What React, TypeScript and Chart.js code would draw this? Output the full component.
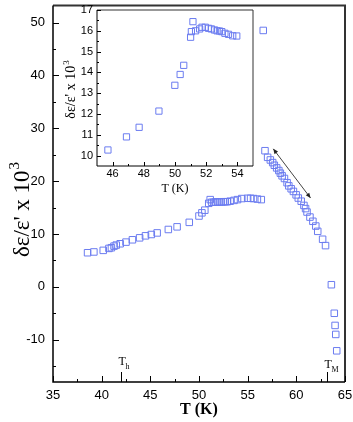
import { useEffect, useRef } from "react";
import { Chart, registerables } from "chart.js";
Chart.register(...registerables);

// ---------- data ----------
const mainT = [
  38.55, 39.2, 40.16, 40.75, 41.0, 41.27, 41.5, 41.9, 42.5, 43.16, 43.9, 44.5, 45.1, 45.7,
  46.85, 47.75, 49.0, 50.0, 50.3, 50.6, 51.0, 51.15, 51.3, 51.5, 51.7, 51.9, 52.1, 52.3,
  52.5, 52.7, 52.9, 53.2, 53.6, 53.96, 54.4, 55.0, 55.3, 55.6, 56.0, 56.4,
  56.6,
  56.78, 57.05, 57.33, 57.57, 57.74, 57.98, 58.2, 58.36, 58.54, 58.78, 59.05, 59.23, 59.47,
  59.7, 59.98, 60.2, 60.5, 60.78, 60.95, 61.1, 61.4, 61.7, 62.0, 62.2, 62.7, 63.0,
  63.6, 63.9, 63.98, 64.05, 64.15,
];
const mainV = [
  6.45, 6.6, 6.9, 7.27, 7.4, 7.7, 7.9, 8.15, 8.46, 8.9, 9.27, 9.65, 9.9, 10.2,
  10.85, 11.35, 12.2, 13.4, 14.0, 14.5, 15.8, 16.5, 16.0, 16.0, 16.05, 16.05, 16.05, 16.05,
  16.1, 16.1, 16.1, 16.2, 16.35, 16.5, 16.7, 16.75, 16.75, 16.7, 16.6, 16.5,
  48.5,
  25.75, 24.5, 24.0, 23.5, 23.0, 22.5, 22.0, 21.5, 21.0, 20.5, 19.7, 19.1, 18.55,
  18.05, 17.4, 16.8, 16.2, 15.4, 14.8, 14.15, 13.2, 12.4, 11.5, 10.5, 9.0, 7.8,
  0.4, -5.0, -7.3, -9.0, -12.1,
];
const insetT = [
  45.7, 46.89, 47.7, 48.97, 49.99, 50.33, 50.56, 51.0, 51.05, 51.15, 51.32, 51.58, 51.73,
  51.94, 52.15, 52.33, 52.53, 52.7, 52.85, 53.0, 53.2, 53.43, 53.7, 53.96,
];
const insetV = [
  10.27, 10.9, 11.36, 12.14, 13.38, 13.9, 14.34, 15.69, 15.96, 16.44, 16.0, 16.09, 16.17,
  16.17, 16.12, 16.09, 16.04, 16.0, 15.99, 15.96, 15.88, 15.83, 15.76, 15.75,
];

const mainXTicks = [35, 40, 45, 50, 55, 60, 65];
const mainXMinor = [37.5, 42.5, 47.5, 52.5, 57.5, 62.5];
const mainYTicks = [-10, 0, 10, 20, 30, 40, 50];
const mainYMinor = [-15, -5, 5, 15, 25, 35, 45];
const insetXTicks = [46, 48, 50, 52, 54];
const insetXMinor = [47, 49, 51, 53];
const insetYTicks = [10, 11, 12, 13, 14, 15, 16, 17];
const insetYMinor = [10.5, 11.5, 12.5, 13.5, 14.5, 15.5, 16.5];

const markerT = [42, 63.1];
const markerSub = ["h", "M"];
const arrowStart = [57.63, 26.1];
const arrowEnd = [61.46, 16.8];

const POINT_COLOR = "#6b7cf0";
const SANS = "'Liberation Sans', Arial, sans-serif";
const SERIF = "'Liberation Serif', 'Times New Roman', serif";

type AxCfg = {
  xTicks: number[];
  xMinor: number[];
  yTicks: number[];
  yMinor: number[];
  major: number;
  minor: number;
  tickFont: string;
  xLabelOffset: number;
  yLabelGap: number;
  frameColor: string;
  frameWidth: number;
  axisWidth: number;
  xTitle: string;
  xTitleFont: string;
  xTitleY: number;
  yTitleFont: string;
  yTitleX: number;
  yTitleY: number;
  supFont: string;
  main: boolean;
};

function drawYTitle(ctx: CanvasRenderingContext2D, cfg: AxCfg) {
  const base = "\u03B4\u03B5/\u03B5' x 10";
  ctx.save();
  ctx.translate(cfg.yTitleX, cfg.yTitleY);
  ctx.rotate(-Math.PI / 2);
  ctx.font = cfg.yTitleFont;
  const w = ctx.measureText(base).width;
  ctx.font = cfg.supFont;
  const ws = ctx.measureText("3").width;
  const total = w + ws;
  ctx.fillStyle = "#000";
  ctx.textBaseline = "alphabetic";
  ctx.textAlign = "left";
  ctx.font = cfg.yTitleFont;
  const fs = parseFloat(cfg.yTitleFont);
  ctx.fillText(base, -total / 2, fs * 0.35);
  ctx.font = cfg.supFont;
  ctx.fillText("3", -total / 2 + w + 1, fs * 0.35 - fs * 0.45);
  ctx.restore();
}

function makeAxesPlugin(cfg: AxCfg) {
  return {
    id: "customAxes",
    afterDatasetsDraw(chart: any) {
      const ctx: CanvasRenderingContext2D = chart.ctx;
      const a = chart.chartArea;
      const x = chart.scales.x;
      const y = chart.scales.y;
      ctx.save();
      // frame
      ctx.strokeStyle = cfg.frameColor;
      ctx.lineWidth = cfg.frameWidth;
      ctx.beginPath();
      ctx.moveTo(a.left, a.top);
      ctx.lineTo(a.right, a.top);
      ctx.lineTo(a.right, a.bottom);
      ctx.stroke();
      ctx.strokeStyle = "#000";
      ctx.lineWidth = cfg.axisWidth;
      ctx.beginPath();
      ctx.moveTo(a.left, a.top);
      ctx.lineTo(a.left, a.bottom);
      ctx.lineTo(a.right, a.bottom);
      ctx.stroke();
      // ticks
      ctx.lineWidth = 1;
      ctx.beginPath();
      cfg.xTicks.forEach((t) => {
        const px = Math.round(x.getPixelForValue(t)) + 0.5;
        ctx.moveTo(px, a.bottom);
        ctx.lineTo(px, a.bottom - cfg.major);
      });
      cfg.xMinor.forEach((t) => {
        const px = Math.round(x.getPixelForValue(t)) + 0.5;
        ctx.moveTo(px, a.bottom);
        ctx.lineTo(px, a.bottom - cfg.minor);
      });
      cfg.yTicks.forEach((v) => {
        const py = Math.round(y.getPixelForValue(v)) + 0.5;
        ctx.moveTo(a.left, py);
        ctx.lineTo(a.left + cfg.major, py);
      });
      cfg.yMinor.forEach((v) => {
        const py = Math.round(y.getPixelForValue(v)) + 0.5;
        ctx.moveTo(a.left, py);
        ctx.lineTo(a.left + cfg.minor, py);
      });
      ctx.stroke();
      // tick labels
      ctx.fillStyle = "#000";
      ctx.font = cfg.tickFont;
      ctx.textAlign = "center";
      ctx.textBaseline = "middle";
      cfg.xTicks.forEach((t) => {
        ctx.fillText(String(t), x.getPixelForValue(t), a.bottom + cfg.xLabelOffset);
      });
      ctx.textAlign = "right";
      cfg.yTicks.forEach((v) => {
        ctx.fillText(String(v), a.left - cfg.yLabelGap, y.getPixelForValue(v));
      });
      // x title
      ctx.font = cfg.xTitleFont;
      ctx.textAlign = "center";
      ctx.textBaseline = "middle";
      ctx.fillText(cfg.xTitle, (a.left + a.right) / 2, cfg.xTitleY);
      drawYTitle(ctx, cfg);

      if (cfg.main) {
        // transition markers
        markerT.forEach((t, i) => {
          const px = Math.round(x.getPixelForValue(t)) + 0.5;
          ctx.strokeStyle = "#000";
          ctx.lineWidth = 1;
          ctx.beginPath();
          ctx.moveTo(px, a.bottom);
          ctx.lineTo(px, a.bottom - 10);
          ctx.stroke();
          ctx.textAlign = "left";
          ctx.textBaseline = "alphabetic";
          ctx.font = `12px ${SERIF}`;
          const by = i === 0 ? a.bottom - 17 : a.bottom - 14;
          ctx.fillText("T", px - 3, by);
          ctx.font = `8px ${SERIF}`;
          ctx.fillText(markerSub[i], px + 4, by + 4);
        });
        // double arrow
        const x1 = x.getPixelForValue(arrowStart[0]);
        const y1 = y.getPixelForValue(arrowStart[1]);
        const x2 = x.getPixelForValue(arrowEnd[0]);
        const y2 = y.getPixelForValue(arrowEnd[1]);
        ctx.strokeStyle = "#444";
        ctx.fillStyle = "#222";
        ctx.lineWidth = 1;
        ctx.beginPath();
        ctx.moveTo(x1, y1);
        ctx.lineTo(x2, y2);
        ctx.stroke();
        const head = (hx: number, hy: number, ang: number) => {
          const L = 5, W = 2.2;
          ctx.beginPath();
          ctx.moveTo(hx, hy);
          ctx.lineTo(hx - L * Math.cos(ang) + W * Math.sin(ang), hy - L * Math.sin(ang) - W * Math.cos(ang));
          ctx.lineTo(hx - L * Math.cos(ang) - W * Math.sin(ang), hy - L * Math.sin(ang) + W * Math.cos(ang));
          ctx.closePath();
          ctx.fill();
        };
        const ang = Math.atan2(y2 - y1, x2 - x1);
        head(x2, y2, ang);
        head(x1, y1, ang + Math.PI);
      }
      ctx.restore();
    },
  };
}

function App() {
  const mainRef = useRef<HTMLCanvasElement>(null);
  const insetRef = useRef<HTMLCanvasElement>(null);

  useEffect(() => {
    const mainCfg: AxCfg = {
      xTicks: mainXTicks,
      xMinor: mainXMinor,
      yTicks: mainYTicks,
      yMinor: mainYMinor,
      major: 6,
      minor: 3,
      tickFont: `13px ${SANS}`,
      xLabelOffset: 13,
      yLabelGap: 8,
      frameColor: "#333",
      frameWidth: 2,
      axisWidth: 1.5,
      xTitle: "T (K)",
      xTitleFont: `bold 16px ${SERIF}`,
      xTitleY: 410,
      yTitleFont: `23px ${SERIF}`,
      yTitleX: 21,
      yTitleY: 210,
      supFont: `15px ${SERIF}`,
      main: true,
    };
    const insetCfg: AxCfg = {
      xTicks: insetXTicks,
      xMinor: insetXMinor,
      yTicks: insetYTicks,
      yMinor: insetYMinor,
      major: 4,
      minor: 2,
      tickFont: `11px ${SANS}`,
      xLabelOffset: 8,
      yLabelGap: 4,
      frameColor: "#333",
      frameWidth: 1,
      axisWidth: 1,
      xTitle: "T (K)",
      xTitleFont: `12px ${SERIF}`,
      xTitleY: 189,
      yTitleFont: `14px ${SERIF}`,
      yTitleX: 70,
      yTitleY: 90,
      supFont: `9px ${SERIF}`,
      main: false,
    };

    const main = new Chart(mainRef.current!, {
      type: "scatter",
      data: {
        datasets: [
          {
            data: mainT.map((t, i) => ({ x: t, y: mainV[i] })),
            pointStyle: "rect",
            pointRadius: 4.6,
            borderColor: POINT_COLOR,
            backgroundColor: "rgba(0,0,0,0)",
            borderWidth: 1,
          },
        ],
      },
      options: {
        animation: false,
        responsive: false,
        events: [],
        layout: { padding: { left: 53, right: 8, top: 3, bottom: 40 } },
        plugins: { legend: { display: false }, tooltip: { enabled: false } },
        scales: {
          x: { type: "linear", min: 35, max: 65, display: false },
          y: { type: "linear", min: -18, max: 53.2, display: false },
        },
      },
      plugins: [makeAxesPlugin(mainCfg)],
    });

    const inset = new Chart(insetRef.current!, {
      type: "scatter",
      data: {
        datasets: [
          {
            data: insetT.map((t, i) => ({ x: t, y: insetV[i] })),
            pointStyle: "rect",
            pointRadius: 4.4,
            borderColor: POINT_COLOR,
            backgroundColor: "rgba(0,0,0,0)",
            borderWidth: 1,
          },
        ],
      },
      options: {
        animation: false,
        responsive: false,
        events: [],
        layout: { padding: { left: 97, right: 100, top: 10, bottom: 256 } },
        plugins: { legend: { display: false }, tooltip: { enabled: false } },
        scales: {
          x: { type: "linear", min: 45, max: 55, display: false },
          y: { type: "linear", min: 9.5, max: 17, display: false },
        },
      },
      plugins: [makeAxesPlugin(insetCfg)],
    });

    return () => {
      main.destroy();
      inset.destroy();
    };
  }, []);

  const style: React.CSSProperties = { position: "absolute", left: 0, top: 0 };
  return (
    <div style={{ position: "absolute", left: 0, top: 0, width: 353, height: 422, background: "#fff" }}>
      <canvas ref={mainRef} width={353} height={422} style={style} />
      <canvas ref={insetRef} width={353} height={422} style={style} />
    </div>
  );
}

export default App;
